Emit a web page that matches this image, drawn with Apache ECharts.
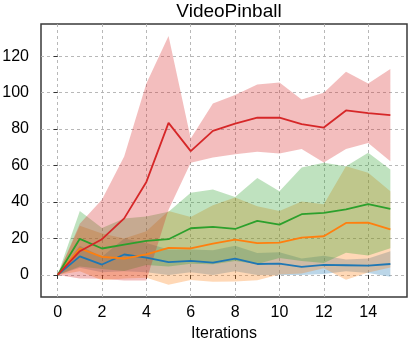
<!DOCTYPE html>
<html>
<head>
<meta charset="utf-8">
<script src="https://cdn.jsdelivr.net/npm/echarts@6/dist/echarts.min.js"></script>
<style>
  html, body { margin: 0; padding: 0; background: #fff; }
  #chart { width: 411px; height: 339px; }
</style>
</head>
<body>
<div id="chart"></div>
<script>
const iterations = [0, 1, 2, 3, 4, 5, 6, 7, 8, 9, 10, 11, 12, 13, 14, 15];
const xTicks = [0, 2, 4, 6, 8, 10, 12, 14];
const yTicks = [0, 20, 40, 60, 80, 100, 120];

const blueMean = [0, 10.2, 5.7, 11.2, 9.5, 7.0, 7.7, 6.8, 9.0, 6.0, 6.2, 4.4, 5.5, 5.3, 5.1, 6.0];
const blueHigh = [0, 16, 10, 20, 17.5, 14, 14, 13.5, 16, 12, 12.4, 9, 10.5, 8.5, 9, 13];
const blueLow = [0, 4, 1.5, 2, 1.5, 0, 1.5, 0, 2, 0, 0, 0, 0.5, 2, 1, -1];

const orangeMean = [0, 14.5, 9.9, 9.0, 11.3, 14.8, 14.5, 17.2, 19.4, 17.4, 17.7, 20.5, 21.2, 28.5, 28.7, 25.0];
const orangeHigh = [0, 27, 22.7, 20, 24, 35, 31.8, 38.2, 42.4, 37.7, 35.1, 40.2, 38.8, 59.6, 56, 45.9];
const orangeLow = [0, 2, -2.9, -2, -1.5, -5.4, -2.8, -3.8, -3.6, -2.9, 0.3, 0.8, 3.6, -2.6, 1.4, 4.1];

const greenMean = [0, 19.8, 14.5, 16.6, 18.7, 19.6, 25.6, 26.3, 25.2, 29.6, 27.6, 33.3, 34.0, 35.9, 38.8, 36.2];
const greenHigh = [0, 35, 25.8, 31, 32, 34.6, 45, 46.8, 42.8, 53.2, 45.9, 58.9, 61.5, 59.6, 67, 57.8];
const greenLow = [0, 4.6, 3.2, 2.2, 5.4, 4.6, 6.2, 5.8, 7.6, 6, 9.3, 7.7, 6.5, 12.2, 10.6, 14.6];

const redMean = [0, 13, 19.6, 31, 51, 83.4, 67.9, 79, 83, 86.3, 86.2, 82.7, 80.8, 90.2, 88.7, 87.6];
const redHigh = [0, 28, 41.3, 65, 105, 131, 74.8, 94, 98.6, 104.4, 105.5, 96.2, 99.9, 111.4, 105, 112.9];
const redLow = [0, -2, -2.1, -3, -3, 35.8, 61.5, 64.4, 66.2, 67.5, 66.6, 69, 61.6, 69, 72.4, 62.4];

const groups = [
  { name: "blue", color: "#1f77b4", mean: blueMean, high: blueHigh, low: blueLow },
  { name: "orange", color: "#ff7f0e", mean: orangeMean, high: orangeHigh, low: orangeLow },
  { name: "green", color: "#2ca02c", mean: greenMean, high: greenHigh, low: greenLow },
  { name: "red", color: "#d62728", mean: redMean, high: redHigh, low: redLow }
];

const FONT = "Liberation Sans";

function pairs(vals) {
  return iterations.map((x, i) => [x, vals[i]]);
}

// one polygon per band: upper edge left to right, lower edge back
function bandRenderer(g) {
  return function (params, api) {
    if (params.dataIndex !== 0) return null;
    const pts = [];
    iterations.forEach((x, i) => pts.push(api.coord([x, g.high[i]])));
    for (let i = iterations.length - 1; i >= 0; i--) {
      pts.push(api.coord([iterations[i], g.low[i]]));
    }
    return {
      type: "polygon",
      shape: { points: pts },
      style: { fill: g.color, opacity: 0.3 },
      silent: true
    };
  };
}

const series = [];
groups.forEach(g => {
  series.push({
    type: "custom",
    data: iterations.map((x, i) => [x, g.low[i], g.high[i]]),
    encode: { x: 0, y: [1, 2] },
    renderItem: bandRenderer(g),
    clip: true,
    z: 2
  });
});
groups.forEach(g => {
  series.push({
    type: "line",
    data: pairs(g.mean),
    symbol: "none",
    lineStyle: { color: g.color, width: 1.8 },
    z: 3
  });
});

const chart = echarts.init(document.getElementById("chart"));
chart.setOption({
  animation: false,
  backgroundColor: "#fff",
  title: {
    text: "VideoPinball",
    left: 224,
    top: -3,
    textAlign: "center",
    textStyle: { fontFamily: FONT, fontSize: 19, fontWeight: "normal", color: "#000" }
  },
  grid: {
    left: 41,
    right: 4,
    top: 24,
    bottom: 42,
    containLabel: false,
    outerBoundsMode: "none",
    show: true,
    borderColor: "#3a3a3a",
    borderWidth: 1.5
  },
  xAxis: {
    type: "value",
    min: -0.75,
    max: 15.75,
    name: "Iterations",
    nameLocation: "middle",
    nameGap: 25,
    nameTextStyle: { fontFamily: FONT, fontSize: 16, color: "#000" },
    axisLine: { show: false },
    axisTick: { show: true, length: 4, customValues: xTicks, lineStyle: { color: "#333" } },
    axisLabel: { customValues: xTicks, margin: 8, fontFamily: FONT, fontSize: 16, color: "#000" },
    splitLine: { show: true, lineStyle: { color: "#b0b0b0", type: [3, 3], width: 0.9 } }
  },
  yAxis: {
    type: "value",
    min: -12.1,
    max: 137.6,
    axisLine: { show: false },
    axisTick: { show: true, length: 4, customValues: yTicks, lineStyle: { color: "#333" } },
    axisLabel: { customValues: yTicks, margin: 12, fontFamily: FONT, fontSize: 16, color: "#000" },
    splitLine: { show: true, lineStyle: { color: "#b0b0b0", type: [3, 3], width: 0.9 } }
  },
  series: series
});
</script>
</body>
</html>
